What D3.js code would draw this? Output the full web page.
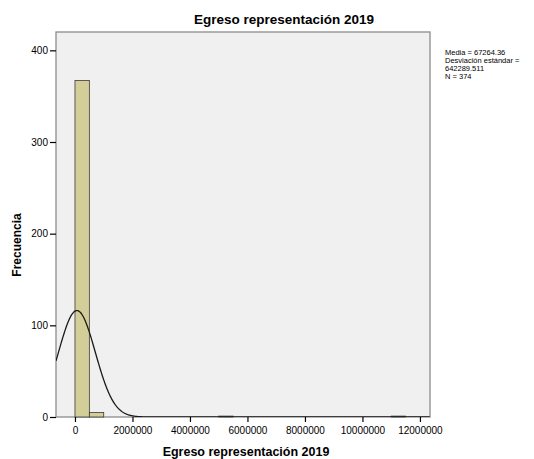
<!DOCTYPE html>
<html><head><meta charset="utf-8">
<script src="https://cdn.jsdelivr.net/npm/d3@7"></script>
<style>body{margin:0;background:#fff}svg{display:block;font-family:"Liberation Sans",Arial,sans-serif}</style>
</head><body><svg id="c" width="534" height="459"></svg>
<script>
const binStarts = [0, 500000, 5000000, 11000000];
const binCounts = [367, 5, 1, 1];
const binWidth = 500000;
const xTicks = [0, 2000000, 4000000, 6000000, 8000000, 10000000, 12000000];
const yTicks = [0, 100, 200, 300, 400];
const statsLines = ["Media = 67264.36", "Desviación estándar =", "642289.511", "N = 374"];
const mean = 67264.36, sd = 642289.511, n = 374;

const svg = d3.select("#c");
const L = 56, R = 430, T = 32, B = 417;
const x = d3.scaleLinear().domain([-660000, 12350000]).range([L, R]);
const y = d3.scaleLinear().domain([0, 420]).range([B, T]);

svg.append("rect").attr("x", L).attr("y", T).attr("width", R - L).attr("height", B - T)
  .attr("fill", "#f0f0f0").attr("stroke", "#8c8c8c").attr("stroke-width", 1.3);

svg.append("clipPath").attr("id", "clp").append("rect")
  .attr("x", L).attr("y", T).attr("width", R - L).attr("height", B - T);

svg.append("g").selectAll("rect").data(binStarts).join("rect")
  .attr("x", d => x(d)).attr("width", d => x(d + binWidth) - x(d))
  .attr("y", (d, i) => y(binCounts[i])).attr("height", (d, i) => y(0) - y(binCounts[i]))
  .attr("fill", "#d3ce97").attr("stroke", "#3a3a3a").attr("stroke-width", 0.8);

const pdf = v => n * binWidth / (sd * Math.sqrt(2 * Math.PI)) * Math.exp(-0.5 * ((v - mean) / sd) ** 2);
const pts = d3.range(-660000, 12350000, 20000).map(v => [v, pdf(v)]);
svg.append("path").attr("clip-path", "url(#clp)")
  .attr("d", d3.line().x(d => x(d[0])).y(d => y(d[1]))(pts))
  .attr("fill", "none").attr("stroke", "#1a1a1a").attr("stroke-width", 1.3);

const xa = svg.append("g").attr("transform", `translate(0,${B})`)
  .call(d3.axisBottom(x).tickValues(xTicks).tickFormat(d3.format("d")).tickSize(5).tickSizeOuter(0));
xa.select(".domain").remove();
xa.selectAll("line").attr("stroke", "#000").attr("stroke-width", 1.2);
xa.selectAll("text").attr("font-size", 10).attr("fill", "#000").attr("dy", "0.9em");

const ya = svg.append("g").attr("transform", `translate(${L},0)`)
  .call(d3.axisLeft(y).tickValues(yTicks).tickSize(6).tickSizeOuter(0));
ya.select(".domain").remove();
ya.selectAll("line").attr("stroke", "#000").attr("stroke-width", 1.2);
ya.selectAll("text").attr("font-size", 10).attr("fill", "#000").attr("dx", "0.1em");

svg.append("text").attr("x", 284).attr("y", 24).attr("text-anchor", "middle")
  .attr("font-size", 13.5).attr("font-weight", "bold").text("Egreso representación 2019");
svg.append("text").attr("x", 246).attr("y", 456).attr("text-anchor", "middle")
  .attr("font-size", 12.5).attr("font-weight", "bold").text("Egreso representación 2019");
svg.append("text").attr("transform", "translate(21,245) rotate(-90)").attr("text-anchor", "middle")
  .attr("font-size", 12).attr("font-weight", "bold").text("Frecuencia");

svg.append("g").selectAll("text").data(statsLines).join("text")
  .attr("x", 445).attr("y", (d, i) => 55 + i * 8)
  .attr("font-size", 7.5).attr("fill", "#000").text(d => d);
</script></body></html>
